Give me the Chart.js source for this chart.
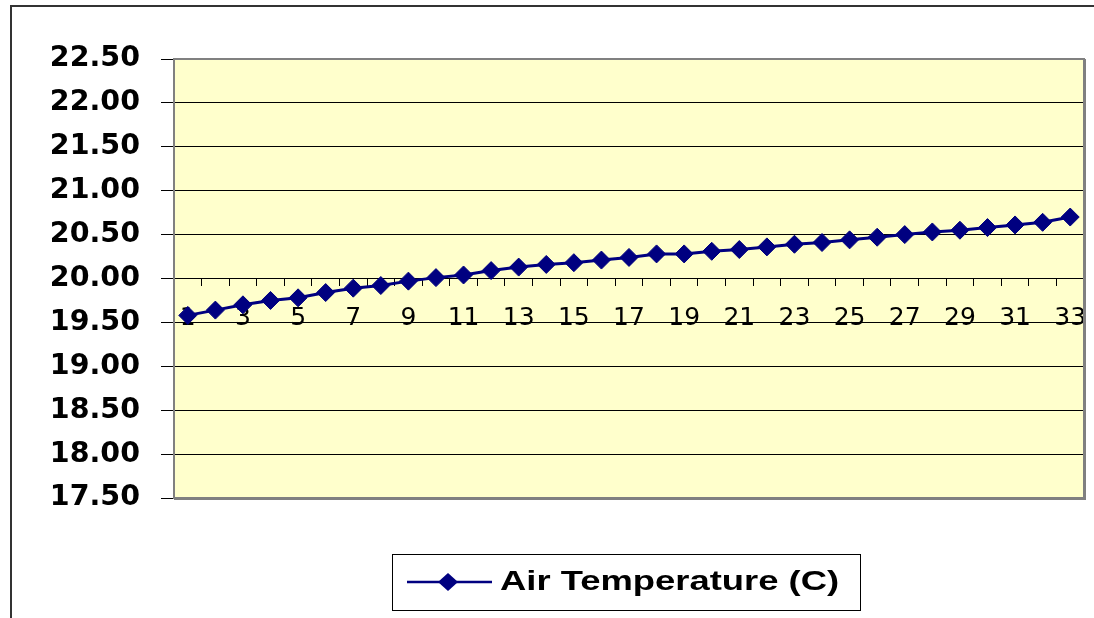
<!DOCTYPE html>
<html>
<head>
<meta charset="utf-8">
<script src="https://cdn.jsdelivr.net/npm/chart.js@4"></script>
<style>
  html, body { margin: 0; padding: 0; background: #fff; }
  #wrap { width: 1094px; height: 618px; position: relative; }
</style>
</head>
<body>
<div id="wrap"><canvas id="c" width="1094" height="618"></canvas></div>
<script>
const categories = ['1','2','3','4','5','6','7','8','9','10','11','12','13','14','15','16','17','18','19','20','21','22','23','24','25','26','27','28','29','30','31','32','33'];
const airTemperature = [19.58, 19.64, 19.70, 19.75, 19.78, 19.84, 19.89, 19.92, 19.97, 20.01, 20.04, 20.09, 20.13, 20.16, 20.18, 20.21, 20.24, 20.28, 20.28, 20.31, 20.33, 20.36, 20.39, 20.41, 20.44, 20.47, 20.50, 20.53, 20.55, 20.58, 20.61, 20.64, 20.70];
const seriesName = 'Air Temperature (C)';
const yMin = 17.5, yMax = 22.5, yStep = 0.5;
const xAxisCrossing = 20;

const navy = '#000080';

const framePlugin = {
  id: 'frame',
  beforeDraw(chart) {
    const { ctx, chartArea: a } = chart;
    ctx.save();
    ctx.fillStyle = '#ffffff';
    ctx.fillRect(0, 0, chart.width, chart.height);
    ctx.fillStyle = '#FFFFCC';
    ctx.fillRect(a.left, a.top, a.right - a.left, a.bottom - a.top);
    ctx.strokeStyle = '#333333';
    ctx.lineWidth = 2;
    ctx.beginPath();
    ctx.moveTo(11, chart.height);
    ctx.lineTo(11, 6);
    ctx.lineTo(chart.width, 6);
    ctx.stroke();
    ctx.restore();
  },
  beforeDatasetsDraw(chart) {
    const { ctx, chartArea: a } = chart;
    ctx.save();
    ctx.strokeStyle = '#808080';
    ctx.lineWidth = 2;
    ctx.strokeRect(a.left, a.top, a.right - a.left, a.bottom - a.top);
    ctx.lineWidth = 3;
    ctx.beginPath();
    ctx.moveTo(a.right + 0.5, a.top);
    ctx.lineTo(a.right + 0.5, a.bottom + 0.5);
    ctx.lineTo(a.left, a.bottom + 0.5);
    ctx.stroke();
    ctx.restore();
  },
  afterDraw(chart) {
    const ctx = chart.ctx;
    ctx.save();
    ctx.strokeStyle = '#000';
    ctx.lineWidth = 1;
    ctx.strokeRect(392.5, 554.5, 468, 56);
    ctx.strokeStyle = navy;
    ctx.lineWidth = 2.5;
    ctx.beginPath();
    ctx.moveTo(407, 582);
    ctx.lineTo(492, 582);
    ctx.stroke();
    ctx.fillStyle = navy;
    ctx.beginPath();
    ctx.moveTo(438, 582);
    ctx.lineTo(448, 573);
    ctx.lineTo(458, 582);
    ctx.lineTo(448, 591);
    ctx.closePath();
    ctx.fill();
    ctx.translate(500, 589.5);
    ctx.scale(1.3, 1);
    ctx.fillStyle = '#000';
    ctx.font = 'bold 28px "Liberation Sans", Arial, sans-serif';
    ctx.textBaseline = 'alphabetic';
    ctx.fillText(seriesName, 0, 0);
    ctx.restore();
  }
};

new Chart(document.getElementById('c'), {
  type: 'line',
  data: {
    labels: categories,
    datasets: [{
      label: seriesName,
      data: airTemperature,
      borderColor: navy,
      backgroundColor: navy,
      borderWidth: 3,
      pointStyle: 'rectRot',
      pointRadius: 9,
      pointBorderWidth: 1,
      pointBackgroundColor: navy,
      pointBorderColor: navy,
      tension: 0,
      fill: false
    }]
  },
  options: {
    responsive: false,
    animation: false,
    devicePixelRatio: 1,
    layout: { padding: { left: 0, top: 59, right: 9, bottom: 120 } },
    plugins: {
      legend: { display: false },
      tooltip: { enabled: false },
      title: { display: false }
    },
    scales: {
      y: {
        min: yMin,
        max: yMax,
        afterFit(scale) { scale.width = 174; },
        ticks: {
          stepSize: yStep,
          color: '#000',
          padding: 21,
          font: { family: '"DejaVu Sans", sans-serif', size: 28.5, weight: 'bold' },
          callback: (v) => Number(v).toFixed(2)
        },
        grid: { color: '#000', lineWidth: 1, tickLength: 13, drawOnChartArea: true },
        border: { display: false }
      },
      x: {
        position: { y: xAxisCrossing },
        offset: true,
        afterFit(scale) { scale.paddingLeft = 0; scale.paddingRight = 0; },
        ticks: {
          color: '#000',
          autoSkip: false,
          maxRotation: 0,
          minRotation: 0,
          padding: 18,
          font: { family: '"DejaVu Sans", sans-serif', size: 25 },
          callback: function (v, i) { return i % 2 === 0 ? categories[i] : ''; }
        },
        grid: { offset: true, drawOnChartArea: false, color: '#000', lineWidth: 1, tickLength: 7 },
        border: { display: false }
      }
    }
  },
  plugins: [framePlugin]
});
</script>
</body>
</html>
